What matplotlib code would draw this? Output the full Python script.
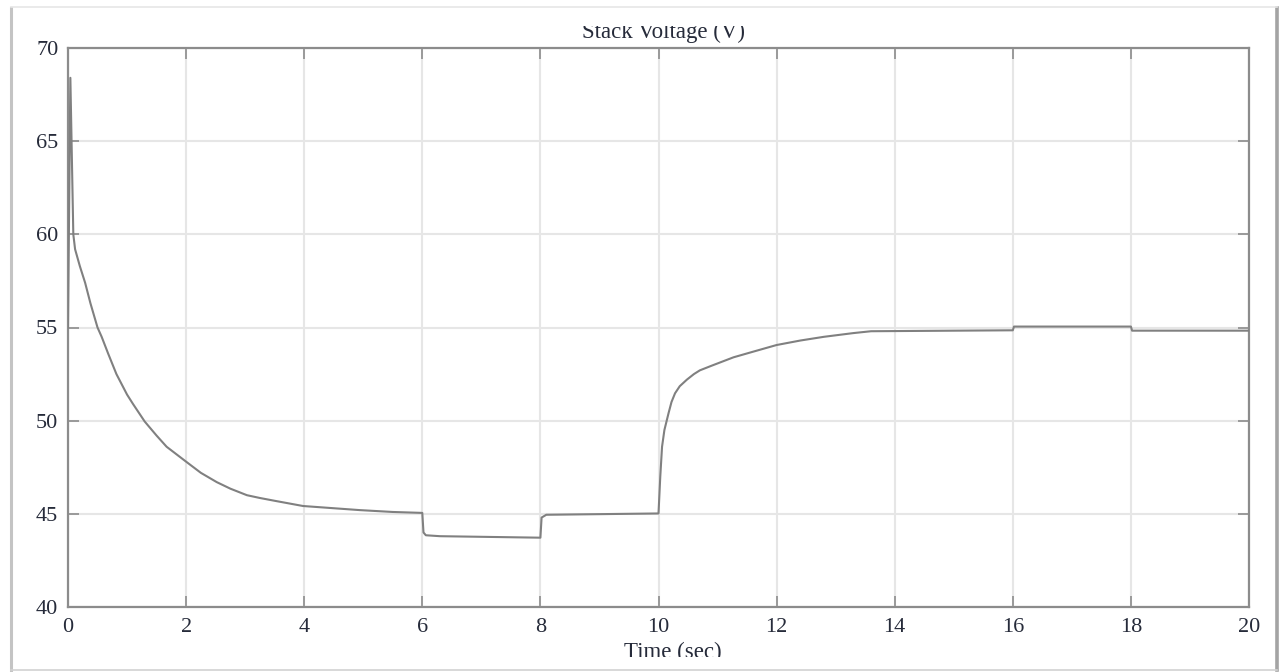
import matplotlib
matplotlib.use("Agg")
import matplotlib.pyplot as plt
from matplotlib.patches import Rectangle
from matplotlib.lines import Line2D

# stack voltage (time in s, voltage in V)
time_s = [0.0, 0.04, 0.09, 0.12, 0.2, 0.29, 0.38, 0.50, 0.57, 0.68, 0.82, 1.0,
          1.1, 1.30, 1.5, 1.67, 2.0, 2.25, 2.52, 2.75, 3.03, 3.25, 3.5, 3.98,
          4.94, 5.5, 6.0,
          6.02, 6.06, 6.3, 8.0,
          8.02, 8.1, 10.0,
          10.03, 10.06, 10.1, 10.17, 10.22, 10.28, 10.36, 10.48, 10.6, 10.7,
          10.9, 11.27, 11.6, 12.0, 12.4, 12.8, 13.3, 13.6, 16.0,
          16.02, 18.0,
          18.02, 20.0]
voltage = [55.0, 68.4, 60.0, 59.2, 58.3, 57.4, 56.3, 55.0, 54.5, 53.6, 52.5, 51.4,
           50.9, 49.95, 49.2, 48.6, 47.8, 47.2, 46.7, 46.35, 46.0, 45.85, 45.7, 45.42,
           45.2, 45.1, 45.05,
           44.0, 43.85, 43.8, 43.72,
           44.8, 44.95, 45.02,
           47.0, 48.6, 49.5, 50.4, 51.0, 51.47, 51.85, 52.2, 52.5, 52.7,
           52.95, 53.4, 53.7, 54.06, 54.3, 54.5, 54.7, 54.8, 54.85,
           55.05, 55.05,
           54.83, 54.83]

x_ticks = list(range(0, 21, 2))
y_ticks = [40, 45, 50, 55, 60, 65, 70]

W, H = 1286, 672
fig = plt.figure(figsize=(W / 100, H / 100), dpi=100)
fig.patch.set_facecolor("white")

def fx(px):
    return px / W

def fy(py):
    return 1 - py / H

serif = "Liberation Serif"
lbl_color = "#262b3a"

ax = fig.add_axes([fx(68), fy(607), fx(1249) - fx(68), fy(48) - fy(607)])
ax.plot(time_s, voltage, color="#808080", lw=1.5, zorder=3)
ax.set_xlim(0, 20)
ax.set_ylim(40, 70)
ax.set_xticks(x_ticks)
ax.set_yticks(y_ticks)
ax.grid(True, color="#e6e6e6", lw=1.5)
ax.set_axisbelow(True)
for s in ax.spines.values():
    s.set_color("#8c8c8c")
    s.set_linewidth(1.6)
ax.tick_params(direction="in", length=8, width=1.2, color="#8c8c8c",
               top=True, right=True, labelsize=16, labelcolor=lbl_color)
ax.tick_params(axis="x", pad=8)
ax.tick_params(axis="y", pad=7)
for t in ax.get_xticklabels() + ax.get_yticklabels():
    t.set_fontfamily(serif)

# title and x label, both cut off in the screenshot
fig.text(fx(663), fy(38), "Stack Voltage (V)", ha="center", va="baseline",
         fontsize=16.5, family=serif, color=lbl_color)
fig.text(fx(673), fy(658), "Time (sec)", ha="center", va="baseline",
         fontsize=16.5, family=serif, color=lbl_color)
fig.patches.append(Rectangle((fx(12), fy(26)), fx(1276) - fx(12), fy(8) - fy(26),
                             transform=fig.transFigure, facecolor="white",
                             edgecolor="none", zorder=10))
fig.patches.append(Rectangle((fx(12), fy(669)), fx(1276) - fx(12), fy(656.5) - fy(669),
                             transform=fig.transFigure, facecolor="white",
                             edgecolor="none", zorder=10))

# screenshot frame
fig.lines.append(Line2D([fx(11), fx(11)], [fy(8), fy(670)], transform=fig.transFigure,
                        color="#c4c4c4", lw=2.2, zorder=11))
fig.lines.append(Line2D([fx(1277), fx(1277)], [fy(8), fy(670)], transform=fig.transFigure,
                        color="#a4a4a4", lw=2.6, zorder=11))
fig.lines.append(Line2D([fx(11), fx(1277)], [fy(670), fy(670)], transform=fig.transFigure,
                        color="#d2d2d2", lw=1.2, zorder=11))
fig.lines.append(Line2D([fx(11), fx(1277)], [fy(7), fy(7)], transform=fig.transFigure,
                        color="#e6e6e6", lw=1.2, zorder=11))

fig.savefig("out.png", dpi=100, facecolor="white")
